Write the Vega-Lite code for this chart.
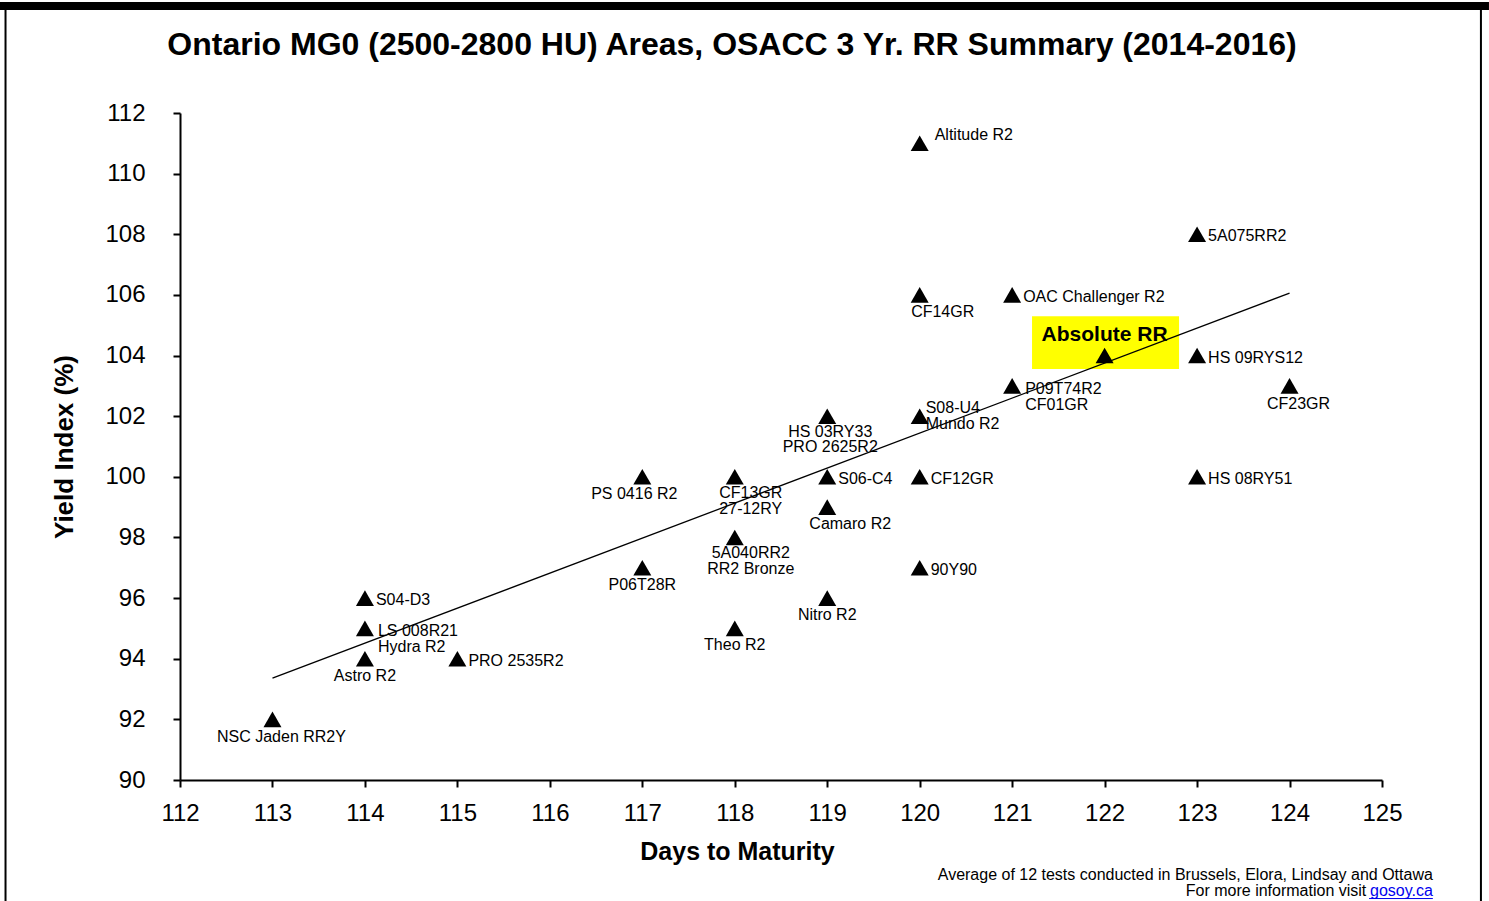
{
  "$schema": "https://vega.github.io/schema/vega-lite/v6.json",
  "width": 1202,
  "height": 667,
  "autosize": "none",
  "padding": {"left": 180, "top": 113, "right": 107, "bottom": 121},
  "background": "white",
  "title": {
    "text": "Ontario MG0 (2500-2800 HU) Areas, OSACC 3 Yr. RR Summary (2014-2016)",
    "fontSize": 32,
    "fontWeight": "bold",
    "font": "Liberation Sans",
    "color": "black",
    "anchor": "middle",
    "dx": -49,
    "baseline": "alphabetic",
    "offset": -85
  },
  "config": {
    "font": "Liberation Sans",
    "view": {"stroke": null},
    "axis": {
      "grid": false,
      "domainColor": "black",
      "domainWidth": 2,
      "tickColor": "black",
      "tickWidth": 2,
      "tickSize": 7,
      "labelColor": "black",
      "labelFontSize": 24,
      "labelFont": "Liberation Sans",
      "labelFlush": false,
      "labelOverlap": false,
      "titleColor": "black",
      "titleFont": "Liberation Sans",
      "titleFontWeight": "bold"
    },
    "text": {"fontSize": 16, "color": "black", "font": "Liberation Sans"}
  },
  "data": {
    "values": [
      {"days": 113, "yield": 92, "label": "NSC Jaden RR2Y", "pos": "BR"},
      {"days": 114, "yield": 96, "label": "S04-D3", "pos": "R"},
      {"days": 114, "yield": 95, "label": ["LS 008R21", "Hydra R2"], "pos": "R2"},
      {"days": 114, "yield": 94, "label": "Astro R2", "pos": "B"},
      {"days": 115, "yield": 94, "label": "PRO 2535R2", "pos": "R"},
      {"days": 117, "yield": 100, "label": "PS 0416 R2", "pos": "BL"},
      {"days": 117, "yield": 97, "label": "P06T28R", "pos": "B"},
      {"days": 118, "yield": 100, "label": ["CF13GR", "27-12RY"], "pos": "B2"},
      {"days": 118, "yield": 98, "label": ["5A040RR2", "RR2 Bronze"], "pos": "B2"},
      {"days": 118, "yield": 95, "label": "Theo R2", "pos": "B"},
      {"days": 119, "yield": 102, "label": ["HS 03RY33", "PRO 2625R2"], "pos": "B2C"},
      {"days": 119, "yield": 100, "label": "S06-C4", "pos": "R"},
      {"days": 119, "yield": 99, "label": "Camaro R2", "pos": "BRR"},
      {"days": 119, "yield": 96, "label": "Nitro R2", "pos": "B"},
      {"days": 120, "yield": 111, "label": "Altitude R2", "pos": "AR"},
      {"days": 120, "yield": 106, "label": "CF14GR", "pos": "BRR"},
      {"days": 120, "yield": 102, "label": ["S08-U4", "Mundo R2"], "pos": "R2U"},
      {"days": 120, "yield": 100, "label": "CF12GR", "pos": "R"},
      {"days": 120, "yield": 97, "label": "90Y90", "pos": "R"},
      {"days": 121, "yield": 106, "label": "OAC Challenger R2", "pos": "R"},
      {"days": 121, "yield": 103, "label": ["P09T74R2", "CF01GR"], "pos": "R2"},
      {"days": 122, "yield": 104, "label": "Absolute RR", "pos": "HL"},
      {"days": 123, "yield": 108, "label": "5A075RR2", "pos": "R"},
      {"days": 123, "yield": 104, "label": "HS 09RYS12", "pos": "R"},
      {"days": 123, "yield": 100, "label": "HS 08RY51", "pos": "R"},
      {"days": 124, "yield": 103, "label": "CF23GR", "pos": "BR"}
    ]
  },
  "encoding": {
    "x": {
      "field": "days",
      "type": "quantitative",
      "scale": {"domain": [112, 125], "nice": false, "zero": false},
      "axis": {
        "values": [112, 113, 114, 115, 116, 117, 118, 119, 120, 121, 122, 123, 124, 125],
        "title": "Days to Maturity",
        "titleFontSize": 25,
        "labelPadding": 14,
        "titlePadding": 14,
        "titleX": 557
      }
    },
    "y": {
      "field": "yield",
      "type": "quantitative",
      "scale": {"domain": [90, 112], "nice": false, "zero": false},
      "axis": {
        "values": [90, 92, 94, 96, 98, 100, 102, 104, 106, 108, 110, 112],
        "title": "Yield Index (%)",
        "titleFontSize": 26,
        "labelPadding": 28,
        "titlePadding": 27
      }
    }
  },
  "layer": [
    {
      "transform": [{"filter": "datum.pos === 'HL'"}],
      "mark": {"type": "rect", "color": "#FFFF00"},
      "encoding": {
        "x": {"datum": 121.215, "type": "quantitative"},
        "x2": {"datum": 122.805},
        "y": {"datum": 105.3, "type": "quantitative"},
        "y2": {"datum": 103.56}
      }
    },
    {
      "data": {"values": [{"days": 113, "yield": 93.36}, {"days": 124, "yield": 106.06}]},
      "mark": {"type": "line", "color": "black", "strokeWidth": 1.3},
      "encoding": {}
    },
    {
      "mark": {"type": "point", "shape": "triangle-up", "filled": true, "color": "black", "size": 324, "opacity": 1}
    },
    {
      "transform": [{"filter": "datum.pos === 'R'"}],
      "mark": {"type": "text", "align": "left", "baseline": "middle", "dx": 11, "dy": 2},
      "encoding": {"text": {"field": "label", "type": "nominal"}}
    },
    {
      "transform": [{"filter": "datum.pos === 'R2'"}],
      "mark": {"type": "text", "align": "left", "baseline": "top", "dx": 13, "dy": -5, "lineHeight": 16},
      "encoding": {"text": {"field": "label", "type": "nominal"}}
    },
    {
      "transform": [{"filter": "datum.pos === 'R2U'"}],
      "mark": {"type": "text", "align": "left", "baseline": "top", "dx": 6, "dy": -16, "lineHeight": 16},
      "encoding": {"text": {"field": "label", "type": "nominal"}}
    },
    {
      "transform": [{"filter": "datum.pos === 'B'"}],
      "mark": {"type": "text", "align": "center", "baseline": "middle", "dy": 17},
      "encoding": {"text": {"field": "label", "type": "nominal"}}
    },
    {
      "transform": [{"filter": "datum.pos === 'BL'"}],
      "mark": {"type": "text", "align": "center", "baseline": "middle", "dx": -8, "dy": 17},
      "encoding": {"text": {"field": "label", "type": "nominal"}}
    },
    {
      "transform": [{"filter": "datum.pos === 'BR'"}],
      "mark": {"type": "text", "align": "center", "baseline": "middle", "dx": 9, "dy": 18},
      "encoding": {"text": {"field": "label", "type": "nominal"}}
    },
    {
      "transform": [{"filter": "datum.pos === 'BRR'"}],
      "mark": {"type": "text", "align": "center", "baseline": "middle", "dx": 23, "dy": 17},
      "encoding": {"text": {"field": "label", "type": "nominal"}}
    },
    {
      "transform": [{"filter": "datum.pos === 'B2'"}],
      "mark": {"type": "text", "align": "center", "baseline": "top", "dx": 16, "dy": 8, "lineHeight": 16},
      "encoding": {"text": {"field": "label", "type": "nominal"}}
    },
    {
      "transform": [{"filter": "datum.pos === 'B2C'"}],
      "mark": {"type": "text", "align": "center", "baseline": "top", "dx": 3, "dy": 8, "lineHeight": 15},
      "encoding": {"text": {"field": "label", "type": "nominal"}}
    },
    {
      "transform": [{"filter": "datum.pos === 'AR'"}],
      "mark": {"type": "text", "align": "left", "baseline": "middle", "dx": 15, "dy": -8},
      "encoding": {"text": {"field": "label", "type": "nominal"}}
    },
    {
      "transform": [{"filter": "datum.pos === 'HL'"}],
      "mark": {"type": "text", "align": "center", "baseline": "middle", "dy": -21, "fontSize": 21, "fontWeight": "bold"},
      "encoding": {"text": {"field": "label", "type": "nominal"}}
    },
    {
      "transform": [{"filter": "datum.pos === 'HL'"}],
      "mark": {"type": "text", "align": "right", "baseline": "middle", "fontSize": 16, "clip": false},
      "encoding": {
        "x": {"datum": 125.55, "type": "quantitative"},
        "y": {"datum": 86.866, "type": "quantitative"},
        "text": {"value": "Average of 12 tests conducted in Brussels, Elora, Lindsay and Ottawa"}
      }
    },
    {
      "transform": [{"filter": "datum.pos === 'HL'"}],
      "mark": {"type": "text", "align": "right", "baseline": "middle", "fontSize": 16, "clip": false},
      "encoding": {
        "x": {"datum": 124.83, "type": "quantitative"},
        "y": {"datum": 86.338, "type": "quantitative"},
        "text": {"value": "For more information visit"}
      }
    },
    {
      "transform": [{"filter": "datum.pos === 'HL'"}],
      "mark": {"type": "text", "align": "right", "baseline": "middle", "fontSize": 16, "color": "#0000EE", "clip": false},
      "encoding": {
        "x": {"datum": 125.55, "type": "quantitative"},
        "y": {"datum": 86.338, "type": "quantitative"},
        "text": {"value": "gosoy.ca"}
      }
    },
    {
      "transform": [{"filter": "datum.pos === 'HL'"}],
      "mark": {"type": "rule", "color": "#0000EE", "strokeWidth": 1, "clip": false},
      "encoding": {
        "x": {"datum": 124.86, "type": "quantitative"},
        "x2": {"datum": 125.55},
        "y": {"datum": 86.09, "type": "quantitative"}
      }
    },
    {
      "transform": [{"filter": "datum.pos === 'HL'"}],
      "mark": {"type": "rule", "color": "black", "strokeWidth": 8, "clip": false},
      "encoding": {
        "x": {"datum": 110.053, "type": "quantitative"},
        "x2": {"datum": 126.157},
        "y": {"datum": 115.53, "type": "quantitative"}
      }
    },
    {
      "transform": [{"filter": "datum.pos === 'HL'"}],
      "mark": {"type": "rule", "color": "black", "strokeWidth": 2, "clip": false},
      "encoding": {
        "x": {"datum": 110.113, "type": "quantitative"},
        "y": {"datum": 115.5, "type": "quantitative"},
        "y2": {"datum": 86.0}
      }
    },
    {
      "transform": [{"filter": "datum.pos === 'HL'"}],
      "mark": {"type": "rule", "color": "black", "strokeWidth": 2, "clip": false},
      "encoding": {
        "x": {"datum": 126.07, "type": "quantitative"},
        "y": {"datum": 115.5, "type": "quantitative"},
        "y2": {"datum": 86.0}
      }
    }
  ]
}
